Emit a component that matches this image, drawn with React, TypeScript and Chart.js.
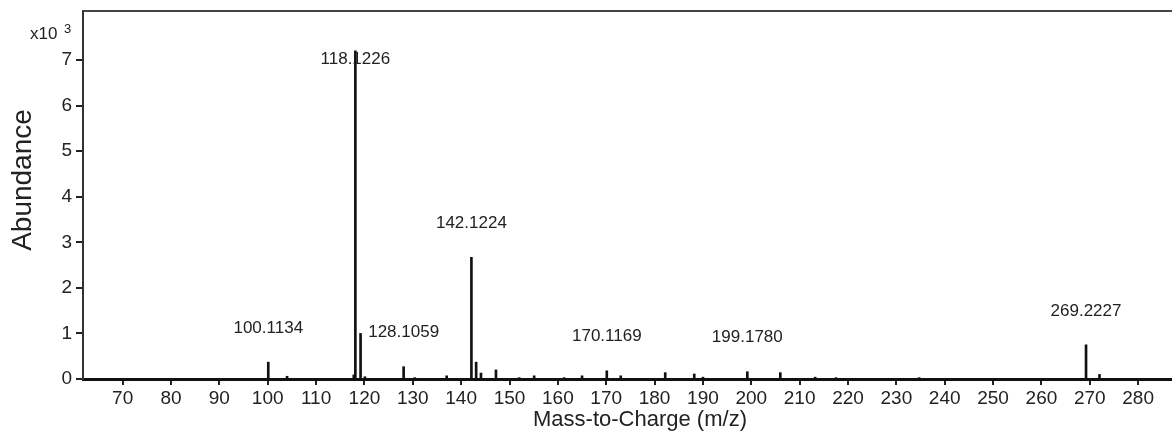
import { useEffect, useRef } from "react";
import { Chart, registerables } from "chart.js";

Chart.register(...registerables);

const FONT = '"Liberation Sans", Arial, sans-serif';

// Peak positions (m/z) and abundances (counts)
const mzValues = [
  100.1134, 104.0, 117.8, 118.1226, 119.2, 120.1, 128.1059, 130.4, 137.0,
  142.1224, 143.1, 144.1, 147.2, 152.0, 155.1, 161.3, 165.0, 170.1169, 173.0,
  182.2, 188.2, 190.0, 199.178, 206.0, 213.2, 217.5, 234.7, 269.2227, 272.0,
];
const abundances = [
  370, 60, 90, 7200, 1000, 50, 270, 30, 70,
  2670, 370, 130, 200, 30, 70, 30, 70, 180, 70,
  140, 110, 40, 160, 140, 40, 30, 30, 750, 100,
];

const labelledPeaks = [100.1134, 118.1226, 128.1059, 142.1224, 170.1169, 199.178, 269.2227];

const xTickValues = [70, 80, 90, 100, 110, 120, 130, 140, 150, 160, 170, 180, 190, 200, 210, 220, 230, 240, 250, 260, 270, 280];
const yTickValues = [0, 1000, 2000, 3000, 4000, 5000, 6000, 7000];

const xTitle = "Mass-to-Charge (m/z)";
const yTitle = "Abundance";
const multiplierBase = "x10";
const multiplierExp = "3";

const overlayPlugin = {
  id: "overlay",
  afterDraw(chart: any) {
    const { ctx, chartArea } = chart;
    const x = chart.scales.x;
    const y = chart.scales.y;
    ctx.save();
    // top frame line
    ctx.strokeStyle = "#444";
    ctx.lineWidth = 2;
    ctx.beginPath();
    ctx.moveTo(chartArea.left, chartArea.top);
    ctx.lineTo(chartArea.right, chartArea.top);
    ctx.stroke();

    // peak labels
    ctx.fillStyle = "#222";
    ctx.font = `17px ${FONT}`;
    ctx.textAlign = "center";
    ctx.textBaseline = "middle";
    labelledPeaks.forEach((mz) => {
      const h = abundances[mzValues.indexOf(mz)];
      const px = x.getPixelForValue(mz);
      const py = Math.max(y.getPixelForValue(h) - 34, chartArea.top + 48);
      ctx.fillText(mz.toFixed(4), px, py);
    });

    // multiplier
    ctx.textAlign = "left";
    ctx.textBaseline = "alphabetic";
    ctx.font = `17px ${FONT}`;
    ctx.fillText(multiplierBase, 30, 39);
    ctx.font = `13px ${FONT}`;
    ctx.fillText(multiplierExp, 64, 33);

    // x title
    ctx.font = `22px ${FONT}`;
    ctx.textAlign = "center";
    ctx.fillText(xTitle, 640, 426);

    // y title
    ctx.save();
    ctx.translate(31, 180);
    ctx.rotate(-Math.PI / 2);
    ctx.font = `28px ${FONT}`;
    ctx.textAlign = "center";
    ctx.textBaseline = "alphabetic";
    ctx.fillText(yTitle, 0, 0);
    ctx.restore();

    ctx.restore();
  },
};

export default function App() {
  const ref = useRef<HTMLCanvasElement | null>(null);

  useEffect(() => {
    document.body.style.margin = "0";
    const canvas = ref.current;
    if (!canvas) return;
    const chart = new Chart(canvas, {
      type: "bar",
      data: {
        datasets: [
          {
            data: mzValues.map((m, i) => ({ x: m, y: abundances[i] })),
            backgroundColor: "#111",
            borderWidth: 0,
            barThickness: 2,
          } as any,
        ],
      },
      options: {
        animation: false,
        responsive: false,
        maintainAspectRatio: false,
        layout: { padding: { top: 11, right: 0, left: 0, bottom: 0 } },
        plugins: { legend: { display: false }, tooltip: { enabled: false } },
        scales: {
          x: {
            type: "linear",
            min: 61.8,
            max: 287,
            offset: false,
            afterBuildTicks: (s: any) => {
              s.ticks = xTickValues.map((v) => ({ value: v }));
            },
            afterFit: (s: any) => {
              s.height = 55;
              s.paddingLeft = 0;
              s.paddingRight = 0;
            },
            grid: {
              offset: false,
              drawOnChartArea: false,
              drawTicks: true,
              tickLength: 6,
              color: "#222",
              lineWidth: 2,
            },
            border: { display: true, color: "#111", width: 3 },
            ticks: {
              font: { family: FONT, size: 19 },
              color: "#222",
              padding: 2,
              maxRotation: 0,
              autoSkip: false,
            },
          },
          y: {
            type: "linear",
            min: 0,
            max: 8075,
            afterBuildTicks: (s: any) => {
              s.ticks = yTickValues.map((v) => ({ value: v }));
            },
            afterFit: (s: any) => {
              s.width = 83;
              s.paddingTop = 0;
              s.paddingBottom = 0;
            },
            grid: {
              drawOnChartArea: false,
              drawTicks: true,
              tickLength: 7,
              color: "#222",
              lineWidth: 2,
            },
            border: { display: true, color: "#333", width: 2 },
            ticks: {
              font: { family: FONT, size: 19 },
              color: "#222",
              padding: 4,
              callback: (v: any) => String(Number(v) / 1000),
            },
          },
        },
      },
      plugins: [overlayPlugin],
    });
    return () => chart.destroy();
  }, []);

  return (
    <canvas
      ref={ref}
      width={1172}
      height={434}
      style={{ display: "block", width: 1172, height: 434 }}
    />
  );
}
